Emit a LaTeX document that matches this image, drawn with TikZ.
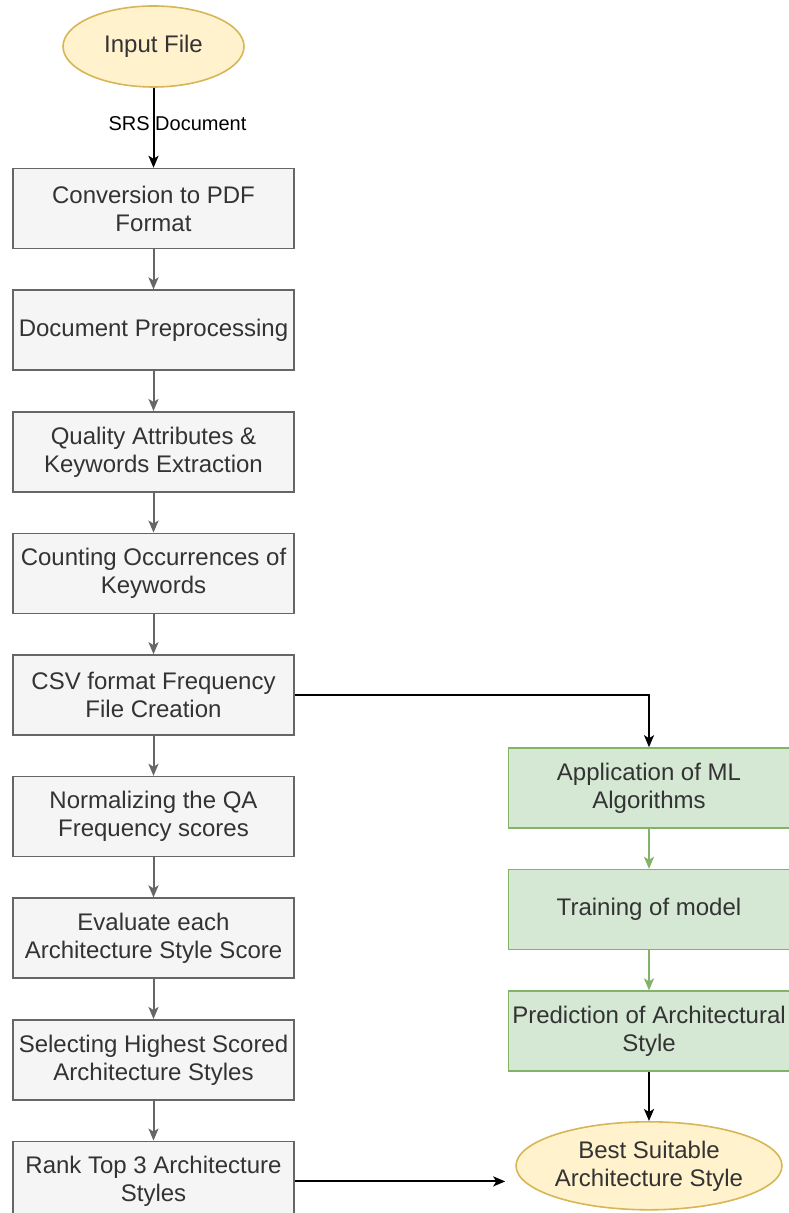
\documentclass[tikz,border=0pt]{standalone}
\usepackage{fontspec}
\setmainfont{Liberation Sans}
\usepackage{xcolor}
\usepackage{tikz}
\usetikzlibrary{positioning,arrows.meta,shapes.geometric}
\definecolor{stepfill}{HTML}{F5F5F5}
\definecolor{stepline}{HTML}{666666}
\definecolor{steptext}{HTML}{333333}
\definecolor{mlfill}{HTML}{D5E8D4}
\definecolor{mlline}{HTML}{82B366}
\definecolor{termfill}{HTML}{FFF2CC}
\definecolor{termline}{HTML}{D6B656}
\tikzset{
    flowbox/.style={draw=stepline, fill=stepfill, text=steptext, line width=0.8pt, align=center, minimum width=140.5pt, minimum height=40pt, inner sep=1pt, font=\fontsize{12}{14}\selectfont},
    mlbox/.style={flowbox, draw=mlline, fill=mlfill},
    termnode/.style={draw=termline, fill=termfill, ellipse, align=center, inner sep=0pt, line width=0.8pt, text=steptext, font=\fontsize{12}{14}\selectfont},
    flowarrow/.style={draw=stepline, line width=1pt, -{Stealth[length=6pt, width=5pt, inset=1.5pt]}},
    mlarrow/.style={flowarrow, draw=mlline},
    blackarrow/.style={flowarrow, draw=black}
}
\begin{document}
\begin{tikzpicture}[x=0.5pt, y=-0.5pt, node distance=20pt]
    \useasboundingbox (0,0) rectangle (788,1213);
    \node[termnode, minimum width=90.5pt, minimum height=40.5pt] (infile) at (153.5,46.5) {Input File};
    \node[flowbox, below=40pt of infile] (pdfconv) {Conversion to PDF\\Format};
    \node[flowbox, below=of pdfconv] (preproc) {Document Preprocessing};
    \node[flowbox, below=of preproc] (qaextract) {Quality Attributes \&\\Keywords Extraction};
    \node[flowbox, below=of qaextract] (kwcount) {Counting Occurrences of\\Keywords};
    \node[flowbox, below=of kwcount] (csvfile) {CSV format Frequency\\File Creation};
    \node[flowbox, below=of csvfile] (qanorm) {Normalizing the QA\\Frequency scores};
    \node[flowbox, below=of qanorm] (styleeval) {Evaluate each\\Architecture Style Score};
    \node[flowbox, below=of styleeval] (styleselect) {Selecting Highest Scored\\Architecture Styles};
    \node[flowbox, below=of styleselect] (stylerank) {Rank Top 3 Architecture\\Styles};
    \node[mlbox] (mlapply) at (649,788) {Application of ML\\Algorithms};
    \node[mlbox, below=of mlapply] (mltrain) {Training of model};
    \node[mlbox, below=of mltrain] (mlpredict) {Prediction of Architectural\\Style};
    \node[termnode, minimum width=132pt, minimum height=44pt, below=24.5pt of mlpredict] (beststyle) {Best Suitable\\Architecture Style};
    \draw[blackarrow] (infile) -- node[pos=0.45, xshift=12pt, font=\fontsize{10}{12}\selectfont]{SRS Document} (pdfconv);
    \draw[flowarrow] (pdfconv) -- (preproc);
    \draw[flowarrow] (preproc) -- (qaextract);
    \draw[flowarrow] (qaextract) -- (kwcount);
    \draw[flowarrow] (kwcount) -- (csvfile);
    \draw[flowarrow] (csvfile) -- (qanorm);
    \draw[flowarrow] (qanorm) -- (styleeval);
    \draw[flowarrow] (styleeval) -- (styleselect);
    \draw[flowarrow] (styleselect) -- (stylerank);
    \draw[blackarrow] (csvfile.east) -| (mlapply.north);
    \draw[mlarrow] (mlapply) -- (mltrain);
    \draw[mlarrow] (mltrain) -- (mlpredict);
    \draw[blackarrow] (mlpredict) -- (beststyle);
    \draw[blackarrow, shorten >=5pt] (stylerank.east) -- (stylerank.east -| beststyle.west);
\end{tikzpicture}
\end{document}
